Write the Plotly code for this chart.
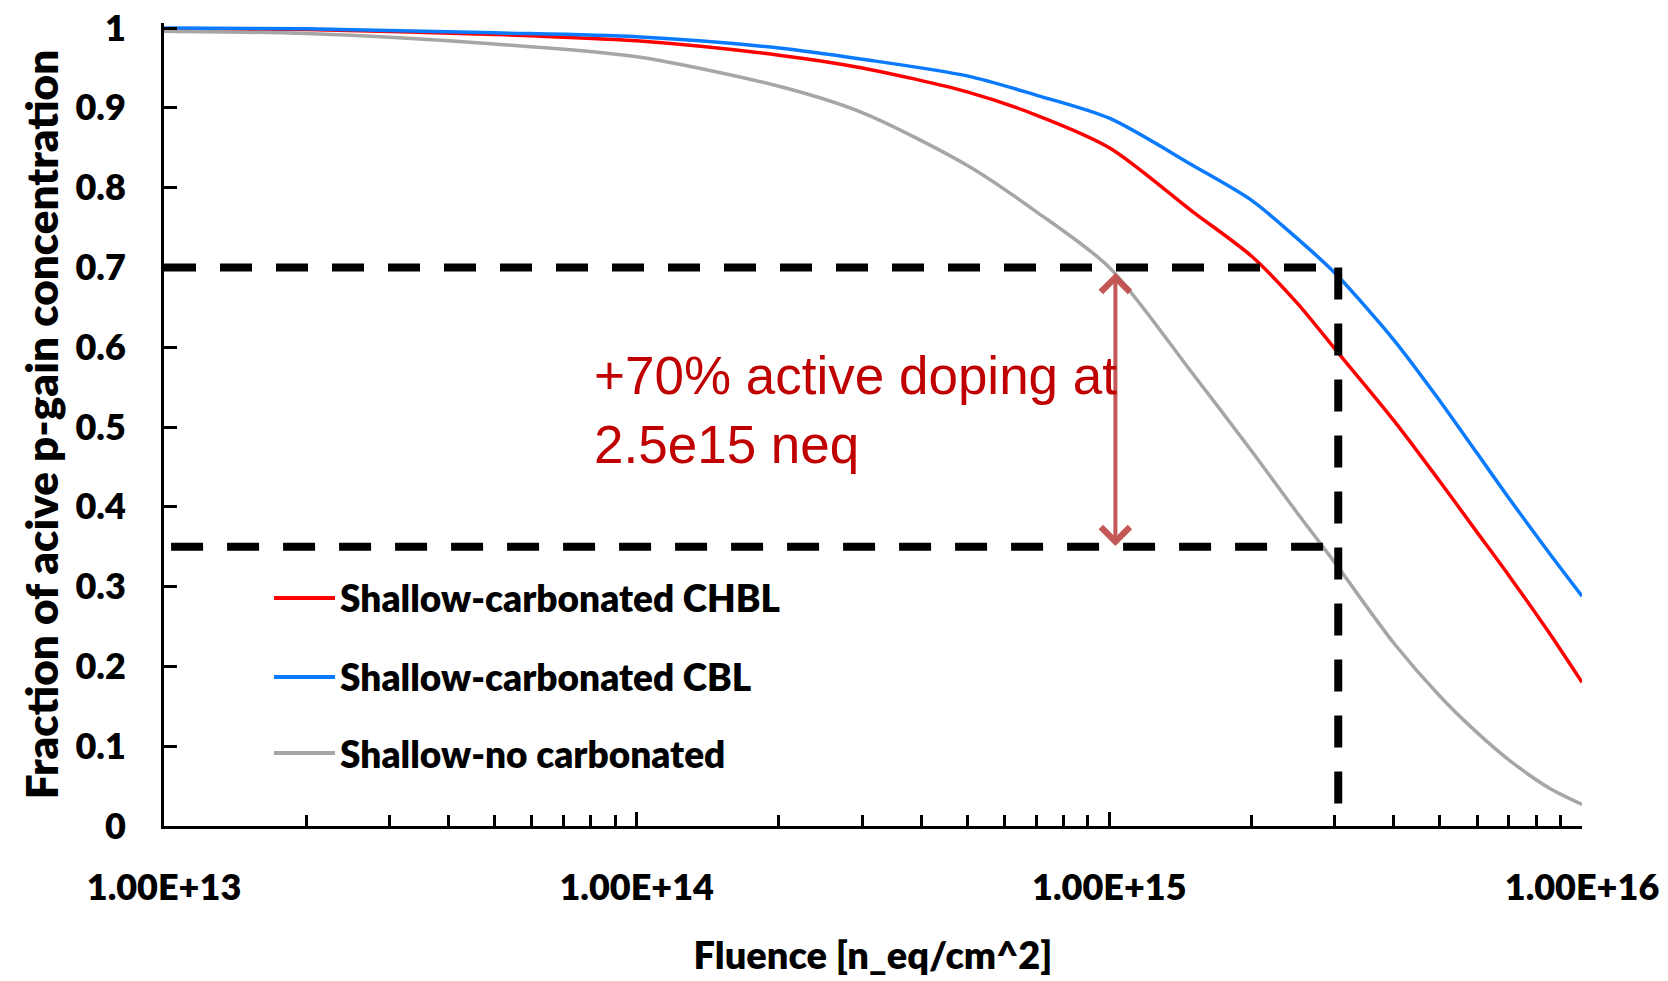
import numpy as np
import plotly.graph_objects as go

# ---- data ----
FLUENCE = [1e13, 2e13, 5e13, 1e14, 2e14, 3e14, 5e14, 7e14, 1e15, 1.5e15, 2e15, 2.5e15, 3e15,
           4e15, 5e15, 6e15, 7e15, 8.5e15, 1e16]
CHBL = [0.999, 0.998, 0.992, 0.984, 0.966, 0.950, 0.920, 0.891, 0.850, 0.770, 0.714, 0.655, 0.598,
        0.508, 0.432, 0.368, 0.314, 0.243, 0.180]
CBL = [1.000, 0.999, 0.994, 0.989, 0.975, 0.961, 0.940, 0.916, 0.887, 0.828, 0.784, 0.736, 0.693,
       0.609, 0.533, 0.467, 0.411, 0.343, 0.288]
NOCARB = [0.996, 0.993, 0.980, 0.964, 0.927, 0.894, 0.828, 0.770, 0.700, 0.567, 0.470, 0.392, 0.330,
          0.229, 0.163, 0.117, 0.083, 0.048, 0.027]

SERIES_NAMES = ["Shallow-carbonated CHBL", "Shallow-carbonated CBL", "Shallow-no carbonated"]
SERIES_COLORS = ["#FF0000", "#0A7BFF", "#A6A6A6"]

X_TICK_VALUES = [1e13, 1e14, 1e15, 1e16]
X_TICK_LABELS = ["1.00E+13", "1.00E+14", "1.00E+15", "1.00E+16"]
Y_TICK_VALUES = [0, 0.1, 0.2, 0.3, 0.4, 0.5, 0.6, 0.7, 0.8, 0.9, 1.0]
Y_TICK_LABELS = ["0", "0.1", "0.2", "0.3", "0.4", "0.5", "0.6", "0.7", "0.8", "0.9", "1"]

# reference guides
LEVEL_HIGH = 0.70
LEVEL_LOW = 0.35
MARK_FLUENCE = 3.05e15
MARK_BOTTOM = 0.028
ARROW_FLUENCE = 1.03e15
ARROW_TOP = 0.693
ARROW_BOTTOM = 0.349
LOW_START = 1.035e13
ANNOT_TEXT = "+70% active doping at<br>2.5e15 neq"

AX_FONT = "Lato"
AX_WEIGHT = 800

fig = go.Figure()

for name, vals, col in zip(SERIES_NAMES, [CHBL, CBL, NOCARB], SERIES_COLORS):
    fig.add_trace(go.Scatter(
        x=FLUENCE, y=vals, mode="lines", name=name, showlegend=False,
        line=dict(color=col, width=3.5, shape="spline", smoothing=0.8),
        hoverinfo="x+y+name"))

dash_line = dict(color="black", width=8, dash="32px,24px")
fig.add_trace(go.Scatter(x=[FLUENCE[0], MARK_FLUENCE], y=[LEVEL_HIGH, LEVEL_HIGH],
                         mode="lines", line=dash_line, showlegend=False, hoverinfo="skip"))
fig.add_trace(go.Scatter(x=[LOW_START, MARK_FLUENCE], y=[LEVEL_LOW, LEVEL_LOW],
                         mode="lines", line=dash_line, showlegend=False, hoverinfo="skip"))
fig.add_trace(go.Scatter(x=[MARK_FLUENCE, MARK_FLUENCE], y=[LEVEL_HIGH, MARK_BOTTOM],
                         mode="lines", line=dash_line, showlegend=False, hoverinfo="skip"))

# double-headed arrow
fig.add_annotation(
    x=np.log10(ARROW_FLUENCE), y=ARROW_TOP, ax=np.log10(ARROW_FLUENCE), ay=ARROW_BOTTOM,
    xref="x", yref="y", axref="x", ayref="y", text="", showarrow=True,
    arrowhead=4, startarrowhead=4, arrowside="end+start", arrowsize=1.4, startarrowsize=1.4,
    arrowwidth=4, arrowcolor="rgba(192,80,77,0.95)", standoff=0, startstandoff=0)

# annotation text
fig.add_annotation(
    xref="paper", yref="paper", x=0.3018, y=0.518, xanchor="left", yanchor="middle",
    align="left", text=ANNOT_TEXT, showarrow=False,
    font=dict(family="Liberation Sans", size=53, color="#C00000"))

# manual legend
legend_rows = [0.284, 0.1856, 0.0909]
for name, col, ry in zip(SERIES_NAMES, SERIES_COLORS, legend_rows):
    fig.add_shape(type="line", xref="paper", yref="paper", x0=0.0776, x1=0.1206, y0=ry, y1=ry,
                  line=dict(color=col, width=4))
    fig.add_annotation(xref="paper", yref="paper", x=0.1227, y=ry, xanchor="left", yanchor="middle",
                       text=name, showarrow=False,
                       font=dict(family=AX_FONT, size=37, color="black", weight=AX_WEIGHT))

tick_font = dict(family=AX_FONT, size=36, color="black", weight=AX_WEIGHT)

fig.update_xaxes(
    type="log", range=[13, 16], showline=True, linecolor="black", linewidth=3,
    ticks="inside", ticklen=14, tickwidth=2.5, tickcolor="black",
    tickvals=X_TICK_VALUES, ticktext=X_TICK_LABELS, tickfont=tick_font,
    showgrid=False, zeroline=False, ticklabelstandoff=28,
    minor=dict(ticks="inside", ticklen=11, tickwidth=2.5, tickcolor="black", dtick="D1", showgrid=False),
    title=dict(text="Fluence [n_eq/cm^2]",
               font=dict(family=AX_FONT, size=38, color="black", weight=AX_WEIGHT), standoff=36))

fig.update_yaxes(
    range=[0, 1.0063], showline=True, linecolor="black", linewidth=3,
    ticks="inside", ticklen=13, tickwidth=2.5, tickcolor="black",
    tickvals=Y_TICK_VALUES, ticktext=Y_TICK_LABELS, tickfont=tick_font,
    showgrid=False, zeroline=False, ticklabelstandoff=28,
    title=dict(text="Fraction of acive p-gain concentration",
               font=dict(family=AX_FONT, size=44, color="black", weight=AX_WEIGHT), standoff=4))

fig.update_layout(
    width=1668, height=981,
    margin=dict(l=164, r=86, t=23, b=155, autoexpand=False),
    paper_bgcolor="white", plot_bgcolor="white",
    showlegend=False)

fig.write_html("out.html")
